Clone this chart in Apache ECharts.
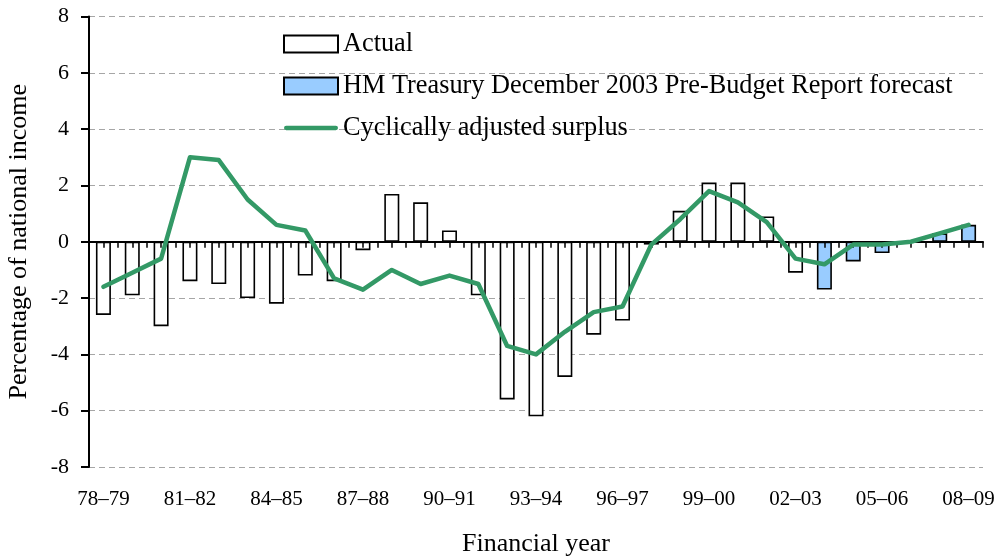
<!DOCTYPE html>
<html>
<head>
<meta charset="utf-8">
<script src="https://cdn.jsdelivr.net/npm/echarts@6/dist/echarts.min.js"></script>
<style>html,body{margin:0;padding:0;background:#fff}#c{width:1000px;height:558px}</style>
</head>
<body>
<div id="c"></div>
<script>
var categories = ['78–79','79–80','80–81','81–82','82–83','83–84','84–85','85–86','86–87','87–88','88–89','89–90','90–91','91–92','92–93','93–94','94–95','95–96','96–97','97–98','98–99','99–00','00–01','01–02','02–03','03–04','04–05','05–06','06–07','07–08','08–09'];
var actual = [-2.6,-1.9,-3.0,-1.4,-1.5,-2.0,-2.2,-1.2,-1.4,-0.3,1.7,1.4,0.4,-1.9,-5.6,-6.2,-4.8,-3.3,-2.8,-0.1,1.1,2.1,2.1,0.9,-1.1,null,null,null,null,null,null];
var forecast = [null,null,null,null,null,null,null,null,null,null,null,null,null,null,null,null,null,null,null,null,null,null,null,null,null,-1.7,-0.7,-0.4,0.0,0.3,0.6];
var cyclical = [-1.6,-1.1,-0.6,3.0,2.9,1.5,0.6,0.4,-1.3,-1.7,-1.0,-1.5,-1.2,-1.5,-3.7,-4.0,-3.2,-2.5,-2.3,-0.1,0.8,1.8,1.4,0.7,-0.6,-0.8,-0.1,-0.1,0.0,0.3,0.6];
var yTicks = {min: -8, max: 8, interval: 2};

var font = 'Liberation Serif';
var chart = echarts.init(document.getElementById('c'));
chart.setOption({
  animation: false,
  textStyle: {fontFamily: font, color: '#000'},
  grid: {left: 89, right: 17, top: 16.5, bottom: 91, containLabel: false, outerBoundsMode: 'none'},
  legend: {
    orient: 'vertical', left: 278, top: 26,
    itemWidth: 54, itemHeight: 17, itemGap: 16, itemTextGap: 8,
    textStyle: {fontFamily: font, fontSize: 26.3, color: '#000'},
    data: [
      {name: 'Actual', icon: 'rect'},
      {name: 'HM Treasury December 2003 Pre-Budget Report forecast', icon: 'rect'},
      {name: 'Cyclically adjusted surplus', icon: 'path://M4,0L96,0A4,4 0 0 1 96,8L4,8A4,4 0 0 1 4,0Z', itemStyle: {color: '#339966', borderWidth: 0}}
    ]
  },
  xAxis: [
    {
      type: 'category', data: categories, position: 'bottom',
      boundaryGap: true,
      axisLine: {show: false, onZero: false},
      axisTick: {show: false},
      axisLabel: {interval: 2, fontSize: 21, color: '#000', fontFamily: font, margin: 22},
      splitLine: {show: false},
      name: 'Financial year', nameLocation: 'middle', nameGap: 64,
      nameTextStyle: {fontSize: 26, color: '#000', fontFamily: font}
    },
    {
      type: 'value', position: 'top', min: -0.5, max: 30.5, interval: 0.5,
      z: 3,
      axisLine: {show: true, onZero: true, lineStyle: {color: '#000', width: 2}},
      axisTick: {show: true, inside: true, length: 6, lineStyle: {color: '#000', width: 1.5}},
      axisLabel: {show: false},
      splitLine: {show: false}
    }
  ],
  yAxis: {
    type: 'value', min: yTicks.min, max: yTicks.max, interval: yTicks.interval,
    axisLine: {show: true, onZero: false, lineStyle: {color: '#000', width: 2}},
    axisTick: {show: true, length: 8, lineStyle: {color: '#000', width: 2}},
    axisLabel: {fontSize: 22, color: '#000', fontFamily: font, margin: 20},
    splitLine: {show: true, lineStyle: {color: '#a6a6a6', width: 1, type: [6, 4]}},
    name: 'Percentage of national income', nameLocation: 'middle', nameGap: 57,
    nameTextStyle: {fontSize: 26, color: '#000', fontFamily: font}
  },
  series: [
    {
      name: 'Actual', type: 'bar', xAxisIndex: 0, data: actual,
      barWidth: 15, barGap: '-100%', z: 2,
      itemStyle: {color: '#ffffff', borderColor: '#000', borderWidth: 1.6}
    },
    {
      name: 'HM Treasury December 2003 Pre-Budget Report forecast', type: 'bar', xAxisIndex: 0, data: forecast,
      barWidth: 15, barGap: '-100%', z: 2,
      itemStyle: {color: '#99ccff', borderColor: '#000', borderWidth: 1.6}
    },
    {
      name: 'Cyclically adjusted surplus', type: 'line', xAxisIndex: 0, data: cyclical,
      symbol: 'none', z: 5,
      lineStyle: {color: '#339966', width: 4.5, join: 'round', cap: 'round'},
      itemStyle: {color: '#339966'}
    }
  ]
});
</script>
</body>
</html>
